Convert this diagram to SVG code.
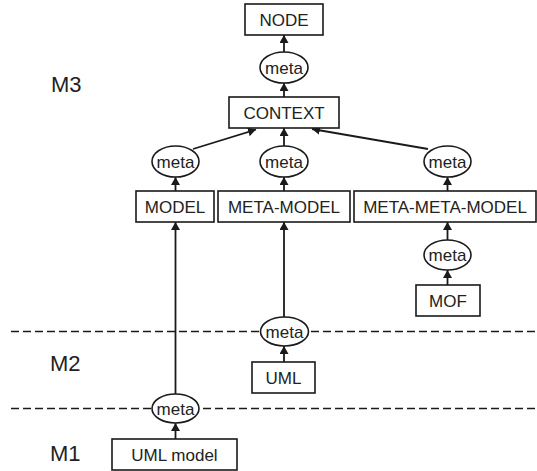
<svg xmlns="http://www.w3.org/2000/svg" width="537" height="471" viewBox="0 0 537 471">
<style>
.box{fill:#fff;stroke:#1a1a1a;stroke-width:1.6}
.ell{fill:#fff;stroke:#1a1a1a;stroke-width:1.6}
.t{font-family:"Liberation Sans",Arial,sans-serif;font-size:17px;fill:#222;text-anchor:middle}
.lvl{font-family:"Liberation Sans",Arial,sans-serif;font-size:22px;fill:#222}
.c{stroke:#1a1a1a;stroke-width:1.8;fill:none;marker-end:url(#ah)}
.dash{stroke:#1a1a1a;stroke-width:1.4;stroke-dasharray:8 4;fill:none}
</style>
<defs>
<marker id="ah" markerWidth="8" markerHeight="9" refX="8" refY="4.5" orient="auto" markerUnits="userSpaceOnUse">
<path d="M0,0 L8,4.5 L0,9 Z" fill="#1a1a1a"/>
</marker>
</defs>
<text class="lvl" x="51" y="92">M3</text>
<text class="lvl" x="50" y="371">M2</text>
<text class="lvl" x="50" y="461">M1</text>
<g id="dashes">
<line class="dash" x1="11" y1="331.5" x2="537" y2="331.5"/>
<line class="dash" x1="11" y1="408.5" x2="537" y2="408.5"/>
</g>
<g id="connectors">
<line class="c" x1="284" y1="52" x2="284" y2="35"/>
<line class="c" x1="284" y1="97" x2="284" y2="83"/>
<line class="c" x1="284" y1="146" x2="284" y2="128"/>
<line class="c" x1="193" y1="149" x2="256" y2="129.5"/>
<line class="c" x1="428" y1="149" x2="312" y2="129"/>
<line class="c" x1="175.5" y1="191" x2="175.5" y2="177"/>
<line class="c" x1="284" y1="191" x2="284" y2="177"/>
<line class="c" x1="447.5" y1="191" x2="447.5" y2="177"/>
<line class="c" x1="447.5" y1="240" x2="447.5" y2="222"/>
<line class="c" x1="447.5" y1="285" x2="447.5" y2="270"/>
<line class="c" x1="284" y1="317" x2="284" y2="222"/>
<line class="c" x1="284" y1="362" x2="284" y2="346"/>
<line class="c" x1="175.5" y1="394" x2="175.5" y2="222"/>
<line class="c" x1="175.5" y1="439" x2="175.5" y2="423"/>
</g>
<g id="node"><rect class="box" x="245" y="4" width="78" height="31"/><text class="t" x="284" y="25.5">NODE</text></g>
<g id="meta1"><ellipse class="ell" cx="284" cy="67.5" rx="24" ry="15.5"/><text class="t" x="284" y="73.5">meta</text></g>
<g id="context"><rect class="box" x="229" y="97" width="110" height="31"/><text class="t" x="284" y="118.5">CONTEXT</text></g>
<g id="meta2"><ellipse class="ell" cx="175.5" cy="161.5" rx="23.5" ry="15.5"/><text class="t" x="175.5" y="167.5">meta</text></g>
<g id="meta3"><ellipse class="ell" cx="284" cy="161.5" rx="24" ry="15.5"/><text class="t" x="284" y="167.5">meta</text></g>
<g id="meta4"><ellipse class="ell" cx="447.5" cy="161.5" rx="23.5" ry="15.5"/><text class="t" x="447.5" y="167.5">meta</text></g>
<g id="model"><rect class="box" x="136" y="191" width="78" height="31"/><text class="t" x="175" y="212.5">MODEL</text></g>
<g id="metamodel"><rect class="box" x="218" y="191" width="132" height="31"/><text class="t" x="284" y="212.5">META-MODEL</text></g>
<g id="metametamodel"><rect class="box" x="354" y="191" width="182" height="31"/><text class="t" x="445" y="212.5">META-META-MODEL</text></g>
<g id="meta5"><ellipse class="ell" cx="447.5" cy="255" rx="23.5" ry="15"/><text class="t" x="447.5" y="261">meta</text></g>
<g id="mof"><rect class="box" x="416" y="285" width="64" height="31"/><text class="t" x="448" y="306.5">MOF</text></g>
<g id="meta6"><ellipse class="ell" cx="284.5" cy="331.5" rx="24" ry="14.5"/><text class="t" x="284.5" y="337.5">meta</text></g>
<g id="uml"><rect class="box" x="252" y="362" width="63" height="31"/><text class="t" x="283.5" y="383.5">UML</text></g>
<g id="meta7"><ellipse class="ell" cx="175.5" cy="408.5" rx="23.5" ry="14.5"/><text class="t" x="175.5" y="414.5">meta</text></g>
<g id="umlmodel"><rect class="box" x="112" y="439" width="125" height="31"/><text class="t" x="174.5" y="460.5">UML model</text></g>
</svg>
